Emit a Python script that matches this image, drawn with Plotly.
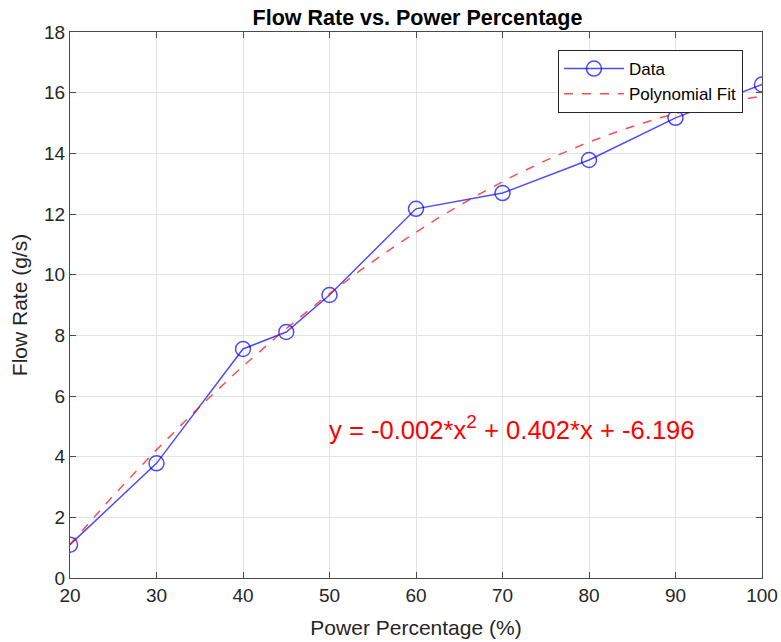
import numpy as np
import plotly.graph_objects as go

power = [20, 30, 40, 45, 50, 60, 70, 80, 90, 100]
flow = [1.10, 3.78, 7.55, 8.11, 9.33, 12.17, 12.69, 13.78, 15.17, 16.27]
x_ticks = [20, 30, 40, 50, 60, 70, 80, 90, 100]
y_ticks = [0, 2, 4, 6, 8, 10, 12, 14, 16, 18]
eq_text = "y = -0.002*x<sup><span style='font-size:19px'>2</span></sup> + 0.402*x + -6.196"

coef = np.polyfit(power, flow, 2)
xf = np.linspace(min(power), max(power), 200)
yf = np.polyval(coef, xf)

FONT = "Liberation Sans, Arial, Helvetica, sans-serif"
TXT = "#262626"
fig = go.Figure()
fig.add_trace(go.Scatter(
    x=power, y=flow, mode="lines+markers", name="Data",
    line=dict(color="rgba(0,0,255,0.7)", width=1.5),
    marker=dict(symbol="circle-open", size=15, color="rgba(0,0,255,0.7)", line=dict(width=1.5)),
))
fig.add_trace(go.Scatter(
    x=xf, y=yf, mode="lines", name="Polynomial Fit",
    line=dict(color="rgba(255,0,0,0.7)", width=1.5, dash="dash"),
))
fig.add_annotation(x=50, y=4.95, text=eq_text, showarrow=False, xanchor="left", yanchor="middle",
                   font=dict(family=FONT, size=25.6, color="red"), xshift=-3)

axis_common = dict(showline=True, linecolor="#4a4a4a", linewidth=1, mirror="allticks",
                   ticks="inside", ticklen=6, tickcolor="#4a4a4a", automargin=False,
                   showgrid=True, gridcolor="#e3e3e3", gridwidth=1, zeroline=False,
                   tickfont=dict(family=FONT, size=19, color=TXT))
fig.update_xaxes(range=[20, 100], tickvals=x_ticks, **axis_common,
                 title=dict(text="Power Percentage (%)", font=dict(family=FONT, size=21, color=TXT), standoff=15))
fig.update_yaxes(range=[0, 18], tickvals=y_ticks, **axis_common,
                 title=dict(text="Flow Rate (g/s)", font=dict(family=FONT, size=21, color=TXT), standoff=10))

W, H = 781, 642
fig.update_layout(
    width=W, height=H,
    margin=dict(l=70, r=19, t=32, b=64, autoexpand=False),
    paper_bgcolor="white", plot_bgcolor="white",
    title=dict(text="<b>Flow Rate vs. Power Percentage</b>", x=417.5 / W, xanchor="center", y=1 - 17 / H, yanchor="middle",
               font=dict(family=FONT, size=21.5, color="black")),
    legend=dict(x=0.9725, y=0.967, xanchor="right", yanchor="top", bgcolor="white",
                bordercolor="#262626", borderwidth=1, font=dict(family=FONT, size=17, color="black"),
                tracegroupgap=0, itemwidth=60),
    showlegend=True,
)
fig.write_html("out.html", config={"displayModeBar": False},
               post_script="document.body.style.margin='0';document.body.style.overflow='hidden';")
